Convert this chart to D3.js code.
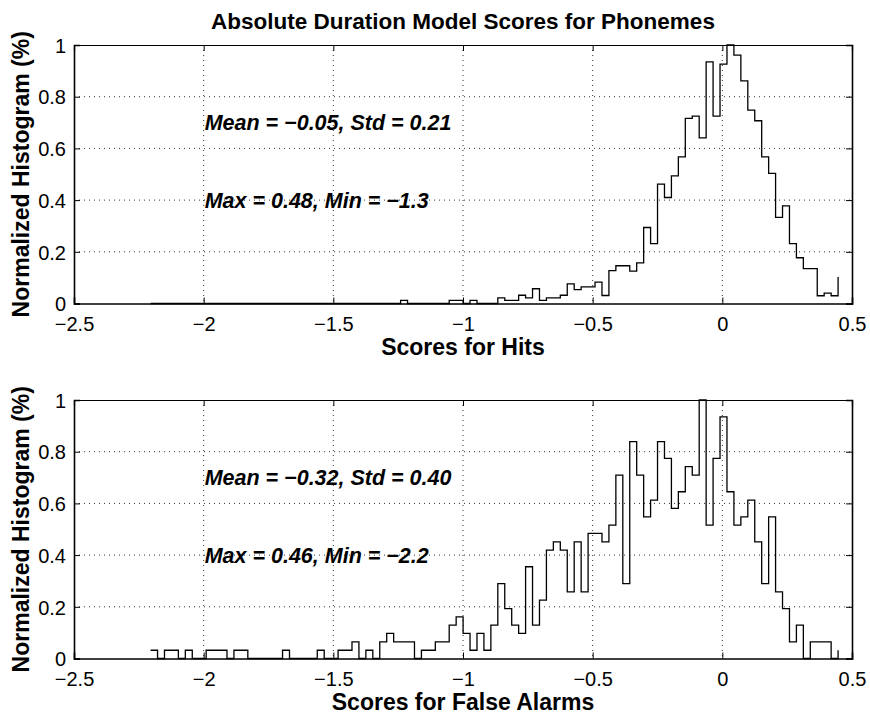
<!DOCTYPE html>
<html>
<head>
<meta charset="utf-8">
<script src="https://cdn.jsdelivr.net/npm/d3@7"></script>
<style>
  html, body { margin: 0; padding: 0; background: #fff; }
  svg { display: block; font-family: "Liberation Sans", Arial, Helvetica, sans-serif; }
</style>
</head>
<body>
<svg id="chart" width="870" height="715"></svg>
<script>
// Histogram bins shared by both panels: 100 bins spanning the pooled score range
const binLow = -2.218;
const binHigh = 0.4597;
const binCount = 100;

// Normalized histogram heights per bin (bin 0 .. 99)
const hitsValues = [
  0, 0, 0, 0, 0, 0, 0, 0, 0, 0,
  0, 0, 0, 0, 0, 0, 0, 0, 0, 0,
  0, 0, 0, 0, 0, 0, 0, 0, 0, 0,
  0, 0, 0, 0, 0, 0, 0.012, 0, 0, 0,
  0, 0, 0, 0.012, 0.012, 0, 0.012, 0, 0, 0,
  0.022, 0.012, 0.012, 0.032, 0.022, 0.057, 0.012, 0.022, 0.022, 0.032,
  0.076, 0.054, 0.064, 0.064, 0.083, 0.031, 0.127, 0.146, 0.146, 0.125,
  0.157, 0.294, 0.232, 0.462, 0.41, 0.494, 0.567, 0.716, 0.725, 0.641,
  0.935, 0.725, 0.926, 1.0, 0.961, 0.861, 0.748, 0.707, 0.567, 0.503,
  0.333, 0.378, 0.232, 0.177, 0.135, 0.135, 0.030, 0.040, 0.030, 0.103
];

const falseAlarmValues = [
  0.032, 0, 0.032, 0.032, 0, 0.032, 0, 0, 0.032, 0.032,
  0.032, 0, 0.032, 0.032, 0, 0, 0, 0, 0, 0.032,
  0, 0, 0, 0, 0.032, 0, 0, 0.032, 0.032, 0.064,
  0, 0.032, 0, 0.064, 0.097, 0.064, 0.064, 0.064, 0, 0.032,
  0.032, 0.064, 0.064, 0.129, 0.161, 0.097, 0.032, 0.097, 0.032, 0.129,
  0.290, 0.193, 0.129, 0.097, 0.355, 0.129, 0.226, 0.419, 0.451, 0.419,
  0.258, 0.451, 0.258, 0.484, 0.484, 0.451, 0.516, 0.709, 0.290, 0.839,
  0.709, 0.548, 0.613, 0.839, 0.774, 0.581, 0.645, 0.742, 0.709, 1.0,
  0.516, 0.774, 0.935, 0.645, 0.516, 0.548, 0.613, 0.451, 0.290, 0.548,
  0.258, 0.193, 0.064, 0.129, 0, 0.064, 0.064, 0.064, 0, 0.032
];

const xTicks = [-2.5, -2, -1.5, -1, -0.5, 0, 0.5];
const yTicks = [0, 0.2, 0.4, 0.6, 0.8, 1];

const chartTitle = "Absolute Duration Model Scores for Phonemes";
const yTitle = "Normalized Histogram (%)";

const panels = [
  { values: hitsValues, xTitle: "Scores for Hits",
    notes: ["Mean = \u22120.05, Std = 0.21", "Max = 0.48, Min = \u22121.3"] },
  { values: falseAlarmValues, xTitle: "Scores for False Alarms",
    notes: ["Mean = \u22120.32, Std = 0.40", "Max = 0.46, Min = \u22122.2"] }
];
const noteY = [0.7, 0.4];
const noteX = -2;

// Bin centers from the histogram edges
const binWidth = (binHigh - binLow) / binCount;
const binCenters = d3.range(binCount).map(i => binLow + binWidth * (i + 0.5));

const svg = d3.select("#chart");
const left = 74, right = 852;
const panelTops = [45, 400];
const panelHeight = 258.5;

const fmt = v => {
  const s = (v === 0) ? "0" : String(v);
  return s.replace("-", "\u2212");
};

svg.append("text")
  .attr("x", (left + right) / 2)
  .attr("y", 28.5)
  .attr("text-anchor", "middle")
  .attr("font-size", 22.5)
  .attr("font-weight", "bold")
  .text(chartTitle);

panels.forEach((p, k) => {
  const top = panelTops[k];
  const bottom = top + panelHeight;
  const x = d3.scaleLinear().domain([-2.5, 0.5]).range([left, right]);
  const y = d3.scaleLinear().domain([0, 1]).range([bottom, top]);
  const g = svg.append("g");

  // dotted grid
  g.append("g").selectAll("line")
    .data(xTicks.slice(1, -1)).join("line")
    .attr("x1", d => x(d)).attr("x2", d => x(d))
    .attr("y1", top).attr("y2", bottom)
    .attr("stroke", "#333").attr("stroke-width", 1)
    .attr("stroke-dasharray", "1,4");
  g.append("g").selectAll("line")
    .data(yTicks.slice(1, -1)).join("line")
    .attr("x1", left).attr("x2", right)
    .attr("y1", d => y(d)).attr("y2", d => y(d))
    .attr("stroke", "#333").attr("stroke-width", 1)
    .attr("stroke-dasharray", "1,4");

  // histogram outline (stairs)
  const pts = binCenters.map((c, i) => [c, p.values[i]]);
  g.append("path")
    .datum(pts)
    .attr("fill", "none")
    .attr("stroke", "#000")
    .attr("stroke-width", 1.3)
    .attr("d", d3.line().x(d => x(d[0])).y(d => y(d[1])).curve(d3.curveStepAfter));

  // axes with inward ticks
  const tickLen = 6;
  const xAxis = d3.axisBottom(x).tickValues(xTicks).tickSize(-tickLen).tickPadding(13).tickFormat(fmt);
  const xAxisTop = d3.axisTop(x).tickValues(xTicks).tickSize(-tickLen).tickFormat("");
  const yAxis = d3.axisLeft(y).tickValues(yTicks).tickSize(-tickLen).tickPadding(8).tickFormat(fmt);
  const yAxisRight = d3.axisRight(y).tickValues(yTicks).tickSize(-tickLen).tickFormat("");

  const gxb = g.append("g").attr("transform", `translate(0,${bottom})`).call(xAxis);
  const gxt = g.append("g").attr("transform", `translate(0,${top})`).call(xAxisTop);
  const gyl = g.append("g").attr("transform", `translate(${left},0)`).call(yAxis);
  const gyr = g.append("g").attr("transform", `translate(${right},0)`).call(yAxisRight);
  [gxb, gxt, gyl, gyr].forEach(a => {
    a.select(".domain").attr("stroke", "#000").attr("stroke-width", 1.6);
    a.selectAll(".tick line").attr("stroke", "#000").attr("stroke-width", 1);
    a.selectAll("text").attr("fill", "#000").attr("font-size", 20)
      .attr("font-family", "'Liberation Sans', Arial, sans-serif");
  });
  gxt.select(".domain").attr("stroke-width", 1.2);
  gyl.selectAll("text").attr("dy", "0.36em");

  // statistics annotations
  p.notes.forEach((t, j) => {
    g.append("text")
      .attr("x", x(noteX) + 1)
      .attr("y", y(noteY[j]))
      .attr("dy", "0.36em")
      .attr("font-size", 21.5)
      .attr("font-weight", "bold")
      .attr("font-style", "italic")
      .text(t);
  });

  // axis titles
  g.append("text")
    .attr("x", (left + right) / 2)
    .attr("y", bottom + 51)
    .attr("text-anchor", "middle")
    .attr("font-size", 23)
    .attr("font-weight", "bold")
    .text(p.xTitle);
  g.append("text")
    .attr("transform", `translate(29,${(top + bottom) / 2}) rotate(-90)`)
    .attr("text-anchor", "middle")
    .attr("font-size", 23)
    .attr("font-weight", "bold")
    .text(yTitle);
});
</script>
</body>
</html>
